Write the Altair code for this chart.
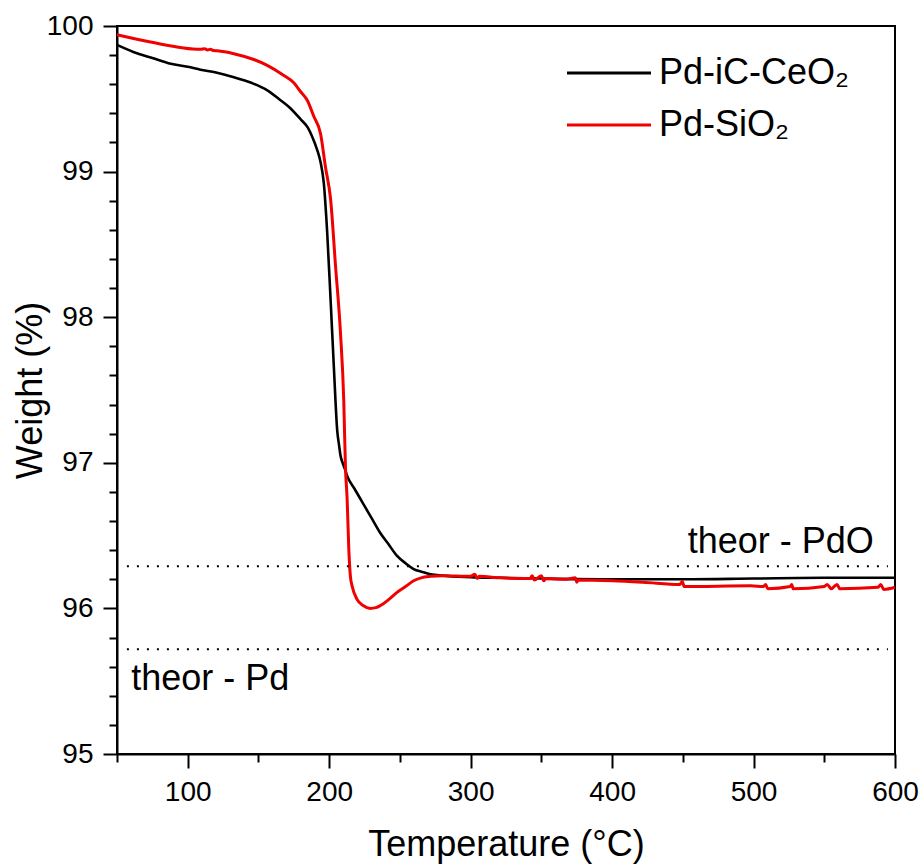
import altair as alt
import pandas as pd

# Thermogravimetric curves: temperature (°C) and weight (%)
black_name = "Pd-iC-CeO₂"
red_name = "Pd-SiO₂"

ceo2_temp = [50, 62, 75, 88, 100, 109, 120, 132, 145, 156, 165.6, 172, 179.7, 185, 188,
             191.5, 194, 196.2, 198.6, 201, 203.3, 205.7, 207, 208, 209.5, 211, 212.7,
             218, 224, 230, 236, 242, 248, 254, 259.7, 266, 271.6, 280, 300, 321, 350,
             400, 422, 450, 500, 550, 600]
ceo2_weight = [99.87, 99.82, 99.78, 99.74, 99.72, 99.70, 99.68, 99.65, 99.61, 99.56, 99.49,
               99.44, 99.36, 99.30, 99.24, 99.15, 99.06, 98.92, 98.58, 98.12, 97.66, 97.22,
               97.12, 97.05, 97.0, 96.96, 96.91, 96.82, 96.72, 96.62, 96.52, 96.44, 96.36,
               96.31, 96.27, 96.25, 96.235, 96.225, 96.215, 96.21, 96.205, 96.20, 96.20,
               96.20, 96.205, 96.21, 96.21]

sio2_temp = [50, 73.7, 109, 112, 114, 116, 118, 121, 132.6, 146.7, 156.2, 168, 175, 179.7,
             184.5, 189.1, 193.9, 197.4, 201, 204.5, 208, 210.3, 211.5, 212.7, 213.9, 215,
             216.3, 219.8, 224, 229, 233, 236.3, 242, 248, 254, 259.7, 265, 271.6, 280, 300,
             303, 304.6, 306, 321, 342, 343.5, 345, 350, 351.7, 353, 368, 374, 375, 376,
             400, 422, 448, 449.6, 451, 498, 507, 508.5, 510, 526, 527, 528, 550, 552,
             555, 559, 561, 588, 590, 592, 600]
sio2_weight = [99.94, 99.89, 99.84, 99.843, 99.836, 99.84, 99.832, 99.83, 99.81, 99.77, 99.73,
               99.66, 99.61, 99.55, 99.49, 99.38, 99.26, 99.03, 98.81, 98.35, 97.89, 97.43,
               96.97, 96.75, 96.40, 96.22, 96.15, 96.06, 96.02, 96.00, 96.005, 96.02, 96.06,
               96.11, 96.15, 96.19, 96.21, 96.22, 96.225, 96.22, 96.235, 96.205, 96.22, 96.21,
               96.205, 96.225, 96.195, 96.225, 96.19, 96.205, 96.20, 96.21, 96.18, 96.195, 96.19,
               96.18, 96.165, 96.185, 96.15, 96.155, 96.15, 96.165, 96.135, 96.15, 96.165, 96.135,
               96.15, 96.165, 96.135, 96.165, 96.135, 96.145, 96.165, 96.13, 96.145]

# Theoretical residual weights (dotted reference lines)
ref_labels = ["theor - PdO", "theor - Pd"]
ref_weight = [96.29, 95.72]
ref_start = [57, 57]
ref_end = [595, 595]

# Annotation text anchors (first right-aligned, second left-aligned)
note_text = ["theor - PdO", "theor - Pd"]
note_temp = [585, 60]
note_weight = [96.38, 95.44]

FONT = "Liberation Sans"

ceo2 = pd.DataFrame({"T": ceo2_temp, "W": ceo2_weight, "sample": black_name})
sio2 = pd.DataFrame({"T": sio2_temp, "W": sio2_weight, "sample": red_name})
refs = pd.DataFrame({"name": ref_labels, "W": ref_weight, "T0": ref_start, "T1": ref_end})
notes = pd.DataFrame({"text": note_text, "T": note_temp, "W": note_weight})

x_ticks = list(range(50, 601, 50))
y_ticks = [round(95 + 0.2 * i, 1) for i in range(26)]

x_scale = alt.Scale(domain=[50, 600], nice=False, zero=False)
y_scale = alt.Scale(domain=[95, 100], nice=False, zero=False)

x_major = "datum.value % 100 == 0"
y_major = "abs(datum.value - round(datum.value)) < 0.01"

x_axis = alt.Axis(
    values=x_ticks,
    labelExpr=f"{x_major} ? datum.label : ''",
    tickSize={"condition": {"test": x_major, "value": 14}, "value": 8},
    labelOverlap=False,
    labelFlush=False,
    title="Temperature (°C)",
    titlePadding=21,
    grid=False,
    format="d",
)
y_axis = alt.Axis(
    values=y_ticks,
    labelExpr=f"{y_major} ? format(datum.value, 'd') : ''",
    tickSize={"condition": {"test": y_major, "value": 14}, "value": 8},
    labelOverlap=False,
    labelFlush=False,
    title="Weight (%)",
    titlePadding=-3,
    grid=False,
)

X = alt.X("T:Q", scale=x_scale, axis=x_axis)
Y = alt.Y("W:Q", scale=y_scale, axis=y_axis)

color = alt.Color(
    "sample:N",
    scale=alt.Scale(domain=[black_name, red_name], range=["#000000", "#f00000"]),
    legend=alt.Legend(
        title=None,
        orient="none",
        legendX=474,
        legendY=29,
        symbolType="M-3,0L3,0",
        symbolSize=784,
        symbolStrokeWidth=3,
        labelFontSize=36,
        labelFont=FONT,
        labelColor="black",
        labelLimit=500,
        rowPadding=16,
        labelOffset=32,
    ),
)

black_line = alt.Chart(ceo2).mark_line(strokeWidth=2.6, interpolate="monotone").encode(
    x=X, y=Y, color=color,
)
red_line = alt.Chart(sio2).mark_line(strokeWidth=3, interpolate="monotone").encode(
    x=X, y=Y, color=color,
)

ref_lines = alt.Chart(refs).mark_rule(color="black", strokeWidth=2, strokeDash=[2, 8]).encode(
    x=alt.X("T0:Q", scale=x_scale, axis=x_axis), x2="T1:Q", y=Y
)

note_base = alt.Chart(notes).encode(x=X, y=Y, text="text:N")
note_right = note_base.transform_filter("datum.text == 'theor - PdO'").mark_text(
    fontSize=36, font=FONT, color="black", baseline="alphabetic", align="right"
)
note_left = note_base.transform_filter("datum.text == 'theor - Pd'").mark_text(
    fontSize=36, font=FONT, color="black", baseline="alphabetic", align="left"
)

chart = alt.layer(black_line, red_line, ref_lines, note_right, note_left).properties(
    width=778,
    height=728,
    background="white",
    autosize=alt.AutoSizeParams(type="none"),
    padding={"left": 117, "top": 26, "right": 28, "bottom": 110},
).configure_view(
    stroke="black", strokeWidth=2
).configure_axis(
    domainColor="black", domainWidth=2, tickColor="black", tickWidth=2,
    labelFont=FONT, labelFontSize=28, labelColor="black", labelPadding=10,
    labelBound=False, labelOverlap=False,
    titleFont=FONT, titleFontSize=36, titleFontWeight="normal", titleColor="black",
).configure_axisY(
    labelOverlap=False
)

chart.save("out.html", embed_options={"renderer": "svg", "actions": False})
